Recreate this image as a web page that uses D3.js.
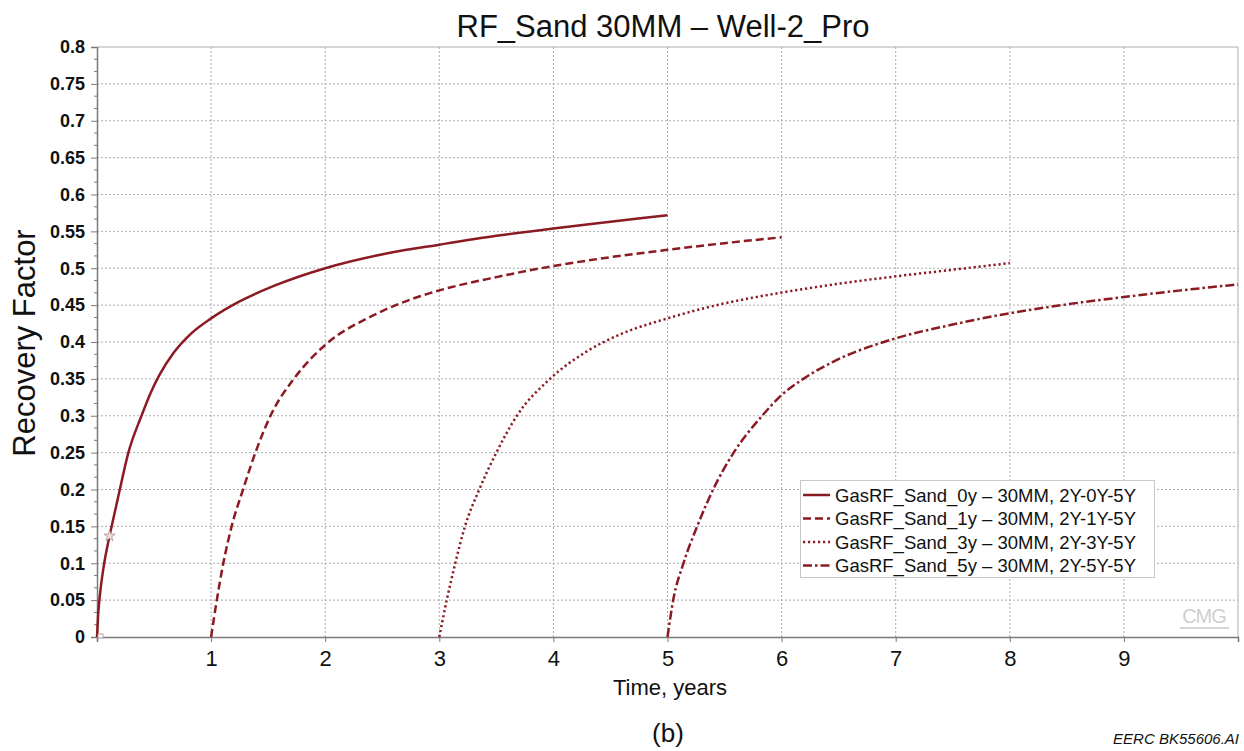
<!DOCTYPE html>
<html>
<head>
<meta charset="utf-8">
<script src="https://cdn.jsdelivr.net/npm/d3@7"></script>
<style>
  html, body { margin: 0; padding: 0; background: #fff; }
  svg { display: block; font-family: "Liberation Sans", Arial, sans-serif; }
</style>
</head>
<body>
<svg id="chart" width="1244" height="751"></svg>
<script>
// ---- Data ----
const xTicks = [1, 2, 3, 4, 5, 6, 7, 8, 9];
const yTicks = [0, 0.05, 0.1, 0.15, 0.2, 0.25, 0.3, 0.35, 0.4, 0.45, 0.5, 0.55, 0.6, 0.65, 0.7, 0.75, 0.8];

const t0  = [0, 0.01, 0.03, 0.06, 0.1, 0.15, 0.2, 0.275, 0.39, 0.47, 0.55, 0.67, 0.815, 1.0, 1.25, 1.55, 2.0, 2.57, 3.0, 3.5, 4.0, 4.5, 5.0];
const rf0 = [0, 0.03, 0.063, 0.097, 0.13, 0.165, 0.2, 0.25, 0.30, 0.331, 0.356, 0.385, 0.41, 0.432, 0.455, 0.476, 0.50, 0.521, 0.532, 0.544, 0.554, 0.563, 0.572];

const t1  = [1.0, 1.05, 1.107, 1.18, 1.28, 1.40, 1.53, 1.73, 2.0, 2.42, 2.83, 3.0, 3.5, 4.0, 4.5, 5.0, 5.5, 6.0];
const rf1 = [0, 0.05, 0.10, 0.15, 0.20, 0.255, 0.303, 0.351, 0.396, 0.436, 0.462, 0.47, 0.488, 0.503, 0.515, 0.525, 0.534, 0.542];

const t3  = [3.0, 3.065, 3.14, 3.225, 3.35, 3.50, 3.68, 3.97, 4.29, 4.58, 5.0, 5.46, 6.0, 6.5, 7.0, 7.5, 8.0];
const rf3 = [0, 0.05, 0.10, 0.15, 0.20, 0.25, 0.30, 0.35, 0.387, 0.41, 0.432, 0.451, 0.467, 0.479, 0.489, 0.498, 0.507];

const t5  = [5.0, 5.05, 5.14, 5.26, 5.40, 5.58, 5.83, 6.0, 6.19, 6.45, 7.0, 7.48, 8.0, 8.5, 9.0, 9.5, 10.0];
const rf5 = [0, 0.05, 0.10, 0.15, 0.20, 0.25, 0.30, 0.328, 0.35, 0.373, 0.405, 0.423, 0.439, 0.451, 0.461, 0.47, 0.478];

const seriesNames = [
  "GasRF_Sand_0y \u2013 30MM, 2Y-0Y-5Y",
  "GasRF_Sand_1y \u2013 30MM, 2Y-1Y-5Y",
  "GasRF_Sand_3y \u2013 30MM, 2Y-3Y-5Y",
  "GasRF_Sand_5y \u2013 30MM, 2Y-5Y-5Y"
];
const markerT = [0.11];
const markerRF = [0.137];

// ---- Layout ----
const svg = d3.select("#chart");
const L = 97, R = 1238, T = 47, B = 637;
const lineColor = "#8b1a22";
const dashes = [null, "8,4", "2.2,2.8", "9,3,2.5,3"];

const x = d3.scaleLinear().domain([0, 10]).range([L, R]);
const y = d3.scaleLinear().domain([0, 0.8]).range([B, T]);

// Gridlines
const grid = svg.append("g");
grid.selectAll("line.h").data(yTicks.filter(v => v > 0)).join("line")
  .attr("x1", L).attr("x2", R)
  .attr("y1", d => y(d)).attr("y2", d => y(d))
  .attr("stroke", "#acacac").attr("stroke-width", 1)
  .attr("stroke-dasharray", d => d === 0.8 ? null : "2,2");
grid.selectAll("line.v").data(xTicks.concat([10])).join("line")
  .attr("x1", d => x(d)).attr("x2", d => x(d))
  .attr("y1", T).attr("y2", B)
  .attr("stroke", "#acacac").attr("stroke-width", 1)
  .attr("stroke-dasharray", d => d === 10 ? null : "2,2");

// Y axis
const yAxis = d3.axisLeft(y).tickValues(yTicks).tickSize(6).tickFormat(d => d3.format("")(+d.toFixed(2)));
const gy = svg.append("g").attr("transform", `translate(${L},0)`).call(yAxis);
gy.select(".domain").attr("stroke", "#7a7a7a").attr("stroke-width", 1.5);
gy.selectAll(".tick line").attr("stroke", "#7a7a7a");
gy.selectAll(".tick text").attr("font-family", "Liberation Sans, Arial, sans-serif")
  .attr("font-size", 18).attr("font-weight", "bold").attr("fill", "#111").attr("dx", "-3");
// minor y ticks
const minor = d3.range(0, 0.8 + 1e-9, 0.05 / 3).filter(v => Math.abs(v / 0.05 - Math.round(v / 0.05)) > 0.01);
svg.append("g").selectAll("line").data(minor).join("line")
  .attr("x1", L - 3).attr("x2", L).attr("y1", d => y(d)).attr("y2", d => y(d))
  .attr("stroke", "#7a7a7a");

// X axis
const xAxis = d3.axisBottom(x).tickValues(xTicks).tickSize(5).tickFormat(d3.format("d"));
const gx = svg.append("g").attr("transform", `translate(0,${B})`).call(xAxis);
gx.select(".domain").attr("stroke", "#7a7a7a").attr("stroke-width", 1.5);
gx.selectAll(".tick line").attr("stroke", "#7a7a7a");
gx.selectAll(".tick text").attr("font-family", "Liberation Sans, Arial, sans-serif")
  .attr("font-size", 22).attr("fill", "#111").attr("dy", "0.95em");

// Lines
const series = [[t0, rf0], [t1, rf1], [t3, rf3], [t5, rf5]];
const line = d3.line().x(d => x(d[0])).y(d => y(d[1])).curve(d3.curveMonotoneX);
series.forEach((s, i) => {
  const pts = s[0].map((t, k) => [t, s[1][k]]);
  svg.append("path").datum(pts)
    .attr("d", line)
    .attr("fill", "none")
    .attr("stroke", lineColor)
    .attr("stroke-width", 2.5)
    .attr("stroke-dasharray", dashes[i]);
});

// small markers on first curve
svg.append("g").selectAll("path").data(markerT.map((t, k) => [t, markerRF[k]])).join("path")
  .attr("transform", d => `translate(${x(d[0])},${y(d[1])})`)
  .attr("d", d3.symbol(d3.symbolStar, 40))
  .attr("fill", "#f0dede").attr("stroke", "#b09090").attr("stroke-width", 0.8);
svg.append("rect").attr("x", x(0) + 1).attr("y", y(0) - 3).attr("width", 5).attr("height", 4)
  .attr("fill", "#fff").attr("stroke", "#b09090").attr("stroke-width", 0.8);

// Title & labels
svg.append("text").attr("x", 663).attr("y", 37).attr("text-anchor", "middle")
  .attr("font-size", 31).attr("fill", "#111").text("RF_Sand 30MM \u2013 Well-2_Pro");
svg.append("text").attr("transform", "translate(35,343) rotate(-90)").attr("text-anchor", "middle")
  .attr("font-size", 31).attr("fill", "#111").text("Recovery Factor");
svg.append("text").attr("x", 670).attr("y", 695).attr("text-anchor", "middle")
  .attr("font-size", 22).attr("fill", "#111").text("Time, years");
svg.append("text").attr("x", 668).attr("y", 742).attr("text-anchor", "middle")
  .attr("font-size", 26).attr("fill", "#111").text("(b)");
svg.append("text").attr("x", 1239).attr("y", 744).attr("text-anchor", "end")
  .attr("font-size", 15).attr("font-style", "italic").attr("fill", "#111").text("EERC BK55606.AI");

// CMG logo
svg.append("text").attr("x", 1204).attr("y", 623).attr("text-anchor", "middle")
  .attr("font-size", 20).attr("fill", "#cfcfcf").attr("letter-spacing", "-1").text("CMG");
svg.append("line").attr("x1", 1180).attr("x2", 1229).attr("y1", 628).attr("y2", 628)
  .attr("stroke", "#d4d4d4").attr("stroke-width", 2);

// Legend
const lg = svg.append("g");
lg.append("rect").attr("x", 800.5).attr("y", 480.5).attr("width", 354).attr("height", 97)
  .attr("fill", "#fff").attr("stroke", "#c8c8c8").attr("stroke-width", 1);
seriesNames.forEach((name, i) => {
  const cy = 495 + i * 23.5;
  lg.append("line").attr("x1", 803).attr("x2", 830).attr("y1", cy).attr("y2", cy)
    .attr("stroke", lineColor).attr("stroke-width", 2.5).attr("stroke-dasharray", dashes[i]);
  lg.append("text").attr("x", 835).attr("y", cy + 6.5)
    .attr("font-size", 18.5).attr("fill", "#111").text(name);
});
</script>
</body>
</html>
